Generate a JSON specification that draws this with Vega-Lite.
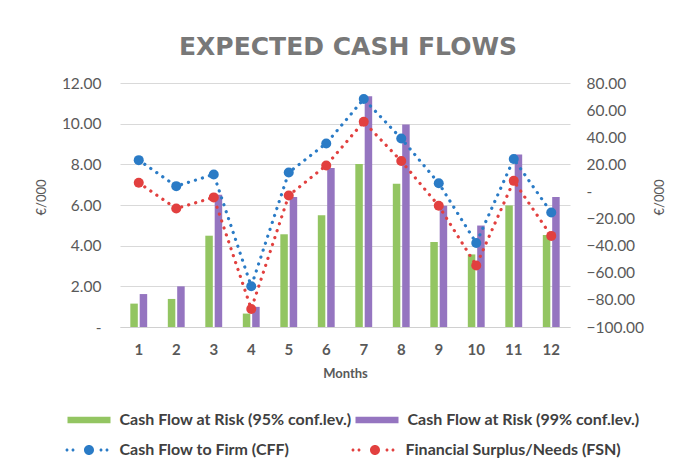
{
  "$schema": "https://vega.github.io/schema/vega-lite/v6.json",
  "width": 450,
  "height": 244,
  "autosize": "none",
  "padding": {"left": 120, "top": 83, "right": 111, "bottom": 143},
  "background": "white",
  "title": {
    "text": "EXPECTED CASH FLOWS",
    "font": "DejaVu Sans",
    "fontSize": 25,
    "fontWeight": "bold",
    "color": "#787878",
    "anchor": "middle",
    "frame": "group",
    "baseline": "alphabetic",
    "offset": -4,
    "dx": 3
  },
  "datasets": {
    "bars": [
      {"month": 1, "series": "Cash Flow at Risk (95% conf.lev.)", "value": 1.15},
      {"month": 1, "series": "Cash Flow at Risk (99% conf.lev.)", "value": 1.62},
      {"month": 2, "series": "Cash Flow at Risk (95% conf.lev.)", "value": 1.38},
      {"month": 2, "series": "Cash Flow at Risk (99% conf.lev.)", "value": 2.0},
      {"month": 3, "series": "Cash Flow at Risk (95% conf.lev.)", "value": 4.49},
      {"month": 3, "series": "Cash Flow at Risk (99% conf.lev.)", "value": 6.5},
      {"month": 4, "series": "Cash Flow at Risk (95% conf.lev.)", "value": 0.66},
      {"month": 4, "series": "Cash Flow at Risk (99% conf.lev.)", "value": 0.99},
      {"month": 5, "series": "Cash Flow at Risk (95% conf.lev.)", "value": 4.56},
      {"month": 5, "series": "Cash Flow at Risk (99% conf.lev.)", "value": 6.39},
      {"month": 6, "series": "Cash Flow at Risk (95% conf.lev.)", "value": 5.5},
      {"month": 6, "series": "Cash Flow at Risk (99% conf.lev.)", "value": 7.82},
      {"month": 7, "series": "Cash Flow at Risk (95% conf.lev.)", "value": 8.02},
      {"month": 7, "series": "Cash Flow at Risk (99% conf.lev.)", "value": 11.35},
      {"month": 8, "series": "Cash Flow at Risk (95% conf.lev.)", "value": 7.05},
      {"month": 8, "series": "Cash Flow at Risk (99% conf.lev.)", "value": 9.96},
      {"month": 9, "series": "Cash Flow at Risk (95% conf.lev.)", "value": 4.18},
      {"month": 9, "series": "Cash Flow at Risk (99% conf.lev.)", "value": 5.96},
      {"month": 10, "series": "Cash Flow at Risk (95% conf.lev.)", "value": 3.57},
      {"month": 10, "series": "Cash Flow at Risk (99% conf.lev.)", "value": 4.99},
      {"month": 11, "series": "Cash Flow at Risk (95% conf.lev.)", "value": 5.98},
      {"month": 11, "series": "Cash Flow at Risk (99% conf.lev.)", "value": 8.48},
      {"month": 12, "series": "Cash Flow at Risk (95% conf.lev.)", "value": 4.53},
      {"month": 12, "series": "Cash Flow at Risk (99% conf.lev.)", "value": 6.39}
    ],
    "lines": [
      {"month": 1, "series": "Cash Flow to Firm (CFF)", "value": 23.1},
      {"month": 2, "series": "Cash Flow to Firm (CFF)", "value": 3.9},
      {"month": 3, "series": "Cash Flow to Firm (CFF)", "value": 12.5},
      {"month": 4, "series": "Cash Flow to Firm (CFF)", "value": -70.0},
      {"month": 5, "series": "Cash Flow to Firm (CFF)", "value": 14.0},
      {"month": 6, "series": "Cash Flow to Firm (CFF)", "value": 35.4},
      {"month": 7, "series": "Cash Flow to Firm (CFF)", "value": 68.2},
      {"month": 8, "series": "Cash Flow to Firm (CFF)", "value": 39.1},
      {"month": 9, "series": "Cash Flow to Firm (CFF)", "value": 6.1},
      {"month": 10, "series": "Cash Flow to Firm (CFF)", "value": -38.0},
      {"month": 11, "series": "Cash Flow to Firm (CFF)", "value": 23.9},
      {"month": 12, "series": "Cash Flow to Firm (CFF)", "value": -15.5},
      {"month": 1, "series": "Financial Surplus/Needs (FSN)", "value": 6.4},
      {"month": 2, "series": "Financial Surplus/Needs (FSN)", "value": -12.6},
      {"month": 3, "series": "Financial Surplus/Needs (FSN)", "value": -4.4},
      {"month": 4, "series": "Financial Surplus/Needs (FSN)", "value": -86.7},
      {"month": 5, "series": "Financial Surplus/Needs (FSN)", "value": -3.0},
      {"month": 6, "series": "Financial Surplus/Needs (FSN)", "value": 19.2},
      {"month": 7, "series": "Financial Surplus/Needs (FSN)", "value": 51.4},
      {"month": 8, "series": "Financial Surplus/Needs (FSN)", "value": 22.4},
      {"month": 9, "series": "Financial Surplus/Needs (FSN)", "value": -10.6},
      {"month": 10, "series": "Financial Surplus/Needs (FSN)", "value": -54.6},
      {"month": 11, "series": "Financial Surplus/Needs (FSN)", "value": 7.8},
      {"month": 12, "series": "Financial Surplus/Needs (FSN)", "value": -32.8}
    ]
  },
  "layer": [
    {
      "data": {"name": "bars"},
      "mark": {"type": "bar"},
      "encoding": {
        "x": {
          "field": "month", "type": "ordinal",
          "scale": {"paddingInner": 0.55, "paddingOuter": 0.275},
          "axis": {
            "title": "Months", "labelAngle": 0, "ticks": false,
            "domainColor": "#d0d0d0", "domainWidth": 1.2,
            "labelFontSize": 15, "labelFontWeight": "bold", "labelColor": "#595959",
            "labelPadding": 15,
            "titleFontSize": 13, "titleFontWeight": "bold", "titleColor": "#595959",
            "titlePadding": 10
          }
        },
        "xOffset": {
          "field": "series", "type": "nominal",
          "scale": {"paddingInner": 0.2, "domain": ["Cash Flow at Risk (95% conf.lev.)", "Cash Flow at Risk (99% conf.lev.)"]}
        },
        "y": {
          "field": "value", "type": "quantitative",
          "scale": {"domain": [0, 12], "nice": false, "zero": true},
          "axis": {
            "orient": "left",
            "values": [0, 2, 4, 6, 8, 10, 12],
            "labelExpr": "datum.value == 0 ? '-\u00a0\u00a0\u00a0\u00a0' : format(datum.value, '.2f')",
            "title": "€/000",
            "grid": true, "gridColor": "#d9d9d9", "gridWidth": 1,
            "domain": false, "ticks": false,
            "labelFontSize": 15.5, "labelColor": "#595959", "labelPadding": 19,
            "titleFontSize": 13, "titleFontWeight": "normal", "titleColor": "#595959",
            "titleAngle": 270, "titleAlign": "center", "titleBaseline": "middle",
            "titleX": -79, "titleY": 114
          }
        },
        "fill": {
          "field": "series", "type": "nominal",
          "scale": {
            "domain": ["Cash Flow at Risk (95% conf.lev.)", "Cash Flow at Risk (99% conf.lev.)"],
            "range": ["#93c562", "#9575c0"]
          },
          "legend": {
            "orient": "none", "legendX": -39, "legendY": 329,
            "direction": "horizontal", "columns": 2, "columnPadding": 3,
            "title": null, "padding": 0,
            "symbolType": "M-4.3,-0.65H4.3V0.65H-4.3Z",
            "symbolSize": 100, "symbolStrokeWidth": 0,
            "labelOffset": 22.5, "labelFontSize": 16, "labelFontWeight": "bold",
            "labelColor": "#404040", "labelLimit": 400
          }
        }
      }
    },
    {
      "data": {"name": "lines"},
      "encoding": {
        "x": {
          "field": "month", "type": "ordinal",
          "axis": {
            "title": "Months", "labelAngle": 0, "ticks": false,
            "domainColor": "#d0d0d0", "domainWidth": 1.2,
            "labelFontSize": 15, "labelFontWeight": "bold", "labelColor": "#595959",
            "labelPadding": 15,
            "titleFontSize": 13, "titleFontWeight": "bold", "titleColor": "#595959",
            "titlePadding": 10
          }
        },
        "y": {
          "field": "value", "type": "quantitative",
          "scale": {"domain": [-100, 80], "nice": false, "zero": false},
          "axis": {
            "orient": "right",
            "values": [-100, -80, -60, -40, -20, 0, 20, 40, 60, 80],
            "labelExpr": "datum.value == 0 ? '\u00a0-' : format(datum.value, '.2f')",
            "title": "€/000",
            "grid": false, "domain": false, "ticks": false,
            "labelFontSize": 15.5, "labelColor": "#595959", "labelPadding": 16,
            "titleFontSize": 13, "titleFontWeight": "normal", "titleColor": "#595959",
            "titleAngle": 270, "titleAlign": "center", "titleBaseline": "middle",
            "titleX": 89, "titleY": 114
          }
        }
      },
      "layer": [
        {
          "mark": {"type": "line", "strokeWidth": 3.2, "strokeDash": [0.1, 7.2], "strokeCap": "round"},
          "encoding": {
            "stroke": {
              "field": "series", "type": "nominal",
              "scale": {"domain": ["Financial Surplus/Needs (FSN)", "Cash Flow to Firm (CFF)"], "range": ["#e2403f", "#2a7bc6"]},
              "legend": null
            }
          }
        },
        {
          "mark": {"type": "point", "filled": true, "size": 100, "opacity": 1, "shape": "circle"},
          "encoding": {
            "color": {
              "field": "series", "type": "nominal",
              "scale": {"domain": ["Cash Flow to Firm (CFF)", "Financial Surplus/Needs (FSN)"], "range": ["#2a7bc6", "#e2403f"]},
              "legend": {
                "orient": "none", "legendX": -39, "legendY": 359,
                "direction": "horizontal", "columns": 2, "columnPadding": 61,
                "title": null, "padding": 0,
                "symbolType": "M-4.7,0a0.3,0.3 0 1,0 0.6,0a0.3,0.3 0 1,0 -0.6,0ZM-3.5,0a0.3,0.3 0 1,0 0.6,0a0.3,0.3 0 1,0 -0.6,0ZM-1,0a1,1 0 1,0 2,0a1,1 0 1,0 -2,0ZM2.1,0a0.3,0.3 0 1,0 0.6,0a0.3,0.3 0 1,0 -0.6,0ZM3.3,0a0.3,0.3 0 1,0 0.6,0a0.3,0.3 0 1,0 -0.6,0Z",
                "symbolSize": 100, "symbolStrokeWidth": 0,
                "labelOffset": 22.5, "labelFontSize": 16, "labelFontWeight": "bold",
                "labelColor": "#404040", "labelLimit": 400
              }
            }
          }
        }
      ]
    }
  ],
  "resolve": {"scale": {"y": "independent"}},
  "config": {
    "font": "Lato",
    "view": {"stroke": null}
  }
}
